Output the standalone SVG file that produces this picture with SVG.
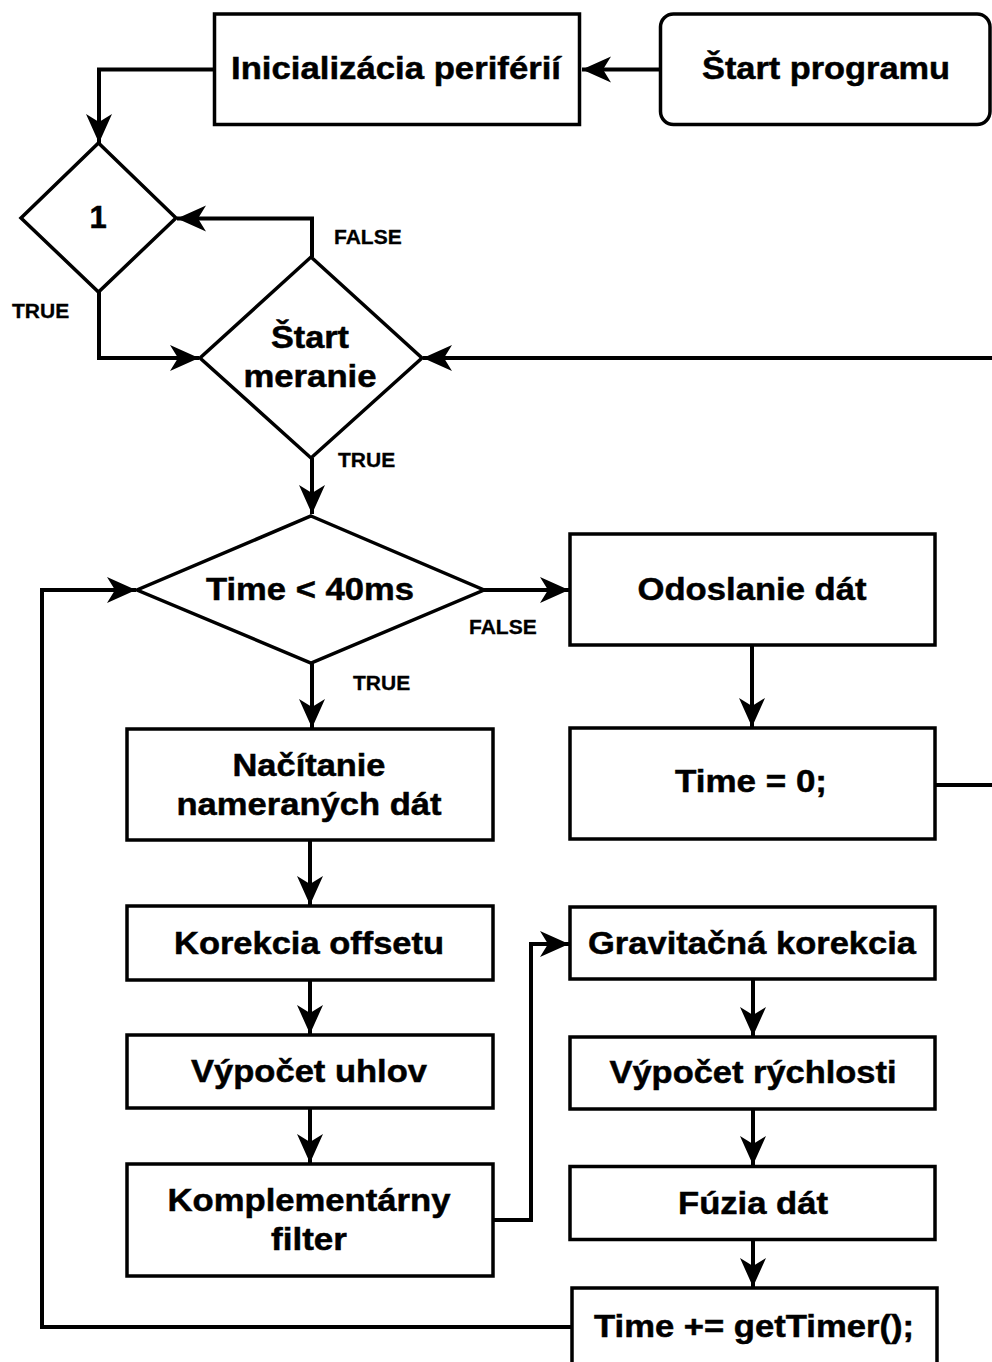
<svg xmlns="http://www.w3.org/2000/svg" width="992" height="1362" viewBox="0 0 992 1362">
<style>
.box{fill:#fff;stroke:#000;stroke-width:3.5}
.con{fill:none;stroke:#000;stroke-width:4;marker-end:url(#arr)}
.line{fill:none;stroke:#000;stroke-width:4}
.t{font-family:"Liberation Sans",Arial,sans-serif;font-weight:bold;font-size:32px;text-anchor:middle;fill:#000;stroke:#000;stroke-width:0.5}
.s{font-family:"Liberation Sans",Arial,sans-serif;font-weight:bold;font-size:21px;fill:#000;stroke:#000;stroke-width:0.3}
</style>
<defs>
<marker id="arr" markerUnits="userSpaceOnUse" markerWidth="32" markerHeight="30" viewBox="-30 -15 32 30" refX="0" refY="0" orient="auto">
<path d="M0,0 L-29,-13 L-21,0 L-29,13 Z" fill="#000"/>
</marker>
<clipPath id="c1"><rect x="300" y="220" width="103" height="40"/></clipPath>
<clipPath id="c2"><rect x="440" y="610" width="98" height="40"/></clipPath>
</defs>

<g id="connectors">
<path class="con" d="M660,69.5 L582,69.5"/>
<path class="con" d="M214,69.5 L99,69.5 L99,143"/>
<path class="con" d="M312,257 L312,218.5 L177,218.5"/>
<path class="con" d="M99,292 L99,358 L199,358"/>
<path class="con" d="M992,358 L423,358"/>
<path class="con" d="M312,458 L312,514"/>
<path class="con" d="M484,590 L569,590"/>
<path class="con" d="M312,663 L312,728"/>
<path class="con" d="M752,645 L752,727"/>
<path class="line" d="M935,785 L992,785"/>
<path class="con" d="M310,840 L310,905"/>
<path class="con" d="M310,980 L310,1034"/>
<path class="con" d="M310,1108 L310,1163"/>
<path class="con" d="M493,1220 L531,1220 L531,944 L569,944"/>
<path class="con" d="M753,979 L753,1036"/>
<path class="con" d="M753,1109 L753,1165"/>
<path class="con" d="M753,1240 L753,1287"/>
<path class="con" d="M572,1327 L42,1327 L42,590 L136,590"/>
</g>

<g id="start">
<rect class="box" x="660.5" y="14" width="329.5" height="110.5" rx="13"/>
<text class="t" x="826" y="79" textLength="248" lengthAdjust="spacingAndGlyphs">Štart programu</text>
</g>
<g id="init">
<rect class="box" x="214.5" y="14" width="365" height="110.5"/>
<text class="t" x="396" y="79" textLength="330" lengthAdjust="spacingAndGlyphs">Inicializácia periférií</text>
</g>
<g id="dec1">
<polygon class="box" points="98.5,143 176,218 98.5,292 21,218"/>
<text class="t" x="98" y="228" style="font-size:31px">1</text>
</g>
<g id="startMeranie">
<polygon class="box" points="311,257 422,358 311,458 200,358"/>
<text class="t" x="310" y="348" textLength="78" lengthAdjust="spacingAndGlyphs">Štart</text>
<text class="t" x="310" y="387" textLength="133" lengthAdjust="spacingAndGlyphs">meranie</text>
</g>
<g id="timeCheck">
<polygon class="box" points="311,516 484,590 311,663 137,590"/>
<text class="t" x="310" y="600" textLength="208" lengthAdjust="spacingAndGlyphs">Time &lt; 40ms</text>
</g>
<g id="odoslanie">
<rect class="box" x="570" y="534" width="365" height="111"/>
<text class="t" x="752" y="600" textLength="229" lengthAdjust="spacingAndGlyphs">Odoslanie dát</text>
</g>
<g id="timeZero">
<rect class="box" x="570" y="728" width="365" height="111"/>
<text class="t" x="751" y="792" textLength="152" lengthAdjust="spacingAndGlyphs">Time = 0;</text>
</g>
<g id="nacitanie">
<rect class="box" x="127" y="729" width="366" height="111"/>
<text class="t" x="309" y="776" textLength="153" lengthAdjust="spacingAndGlyphs">Načítanie</text>
<text class="t" x="309" y="815" textLength="265" lengthAdjust="spacingAndGlyphs">nameraných dát</text>
</g>
<g id="korekcia">
<rect class="box" x="127" y="906" width="366" height="74"/>
<text class="t" x="309" y="954" textLength="270" lengthAdjust="spacingAndGlyphs">Korekcia offsetu</text>
</g>
<g id="uhly">
<rect class="box" x="127" y="1035" width="366" height="73"/>
<text class="t" x="309" y="1082" textLength="236" lengthAdjust="spacingAndGlyphs">Výpočet uhlov</text>
</g>
<g id="filter">
<rect class="box" x="127" y="1164" width="366" height="112"/>
<text class="t" x="309" y="1211" textLength="283" lengthAdjust="spacingAndGlyphs">Komplementárny</text>
<text class="t" x="309" y="1250" textLength="76" lengthAdjust="spacingAndGlyphs">filter</text>
</g>
<g id="gravit">
<rect class="box" x="570" y="907" width="365" height="72"/>
<text class="t" x="752" y="954" textLength="328" lengthAdjust="spacingAndGlyphs">Gravitačná korekcia</text>
</g>
<g id="rychlost">
<rect class="box" x="570" y="1037" width="365" height="72"/>
<text class="t" x="753" y="1083" textLength="287" lengthAdjust="spacingAndGlyphs">Výpočet rýchlosti</text>
</g>
<g id="fuzia">
<rect class="box" x="570" y="1166.5" width="365" height="73"/>
<text class="t" x="753" y="1214" textLength="150" lengthAdjust="spacingAndGlyphs">Fúzia dát</text>
</g>
<g id="timeAdd">
<rect class="box" x="572" y="1288" width="365" height="110"/>
<text class="t" x="754" y="1337" textLength="320" lengthAdjust="spacingAndGlyphs">Time += getTimer();</text>
</g>

<g id="labels">
<text class="s" x="334" y="244" clip-path="url(#c1)">FALSE</text>
<text class="s" x="12" y="318">TRUE</text>
<text class="s" x="338" y="467">TRUE</text>
<text class="s" x="469" y="634" clip-path="url(#c2)">FALSE</text>
<text class="s" x="353" y="690">TRUE</text>
</g>
</svg>
